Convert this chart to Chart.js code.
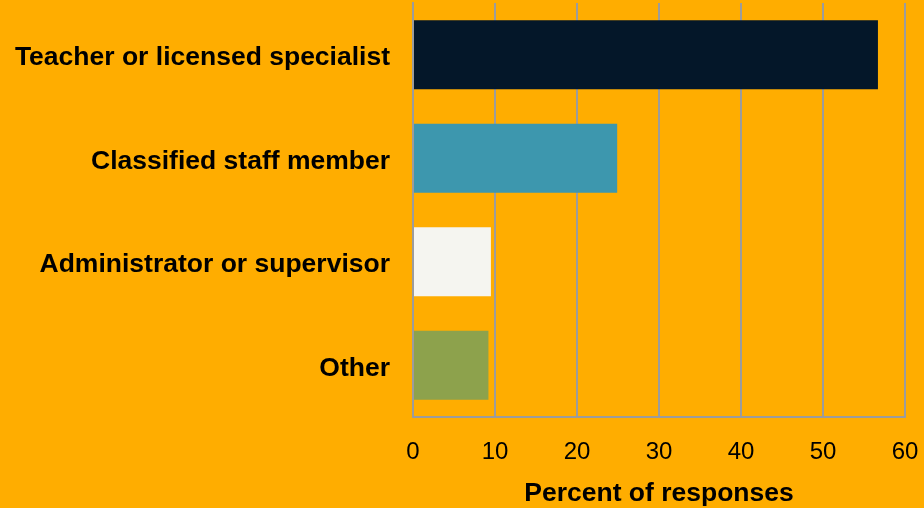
<!DOCTYPE html>
<html>
<head>
<meta charset="utf-8">
<script src="https://cdn.jsdelivr.net/npm/chart.js@4"></script>
<style>
  html, body { margin: 0; padding: 0; background: #FFAD00; }
  #wrap { width: 924px; height: 508px; }
</style>
</head>
<body>
<div id="wrap"><canvas id="c" width="924" height="508"></canvas></div>
<script>
// Respondent roles, share of all responses (%)
const categories = [
  'Teacher or licensed specialist',
  'Classified staff member',
  'Administrator or supervisor',
  'Other'
];
const percentValues = [56.7, 24.9, 9.5, 9.2];
const barColors = ['#041729', '#3D97AE', '#F5F5F0', '#8DA24C'];
const xTicks = [0, 10, 20, 30, 40, 50, 60];

const gridGray = '#9c9c9c';
const fontFamily = '"Liberation Sans", Arial, sans-serif';

const bgPlugin = {
  id: 'bg',
  beforeDraw(chart) {
    const ctx = chart.ctx;
    ctx.save();
    ctx.fillStyle = '#FFAD00';
    ctx.fillRect(0, 0, chart.width, chart.height);
    ctx.restore();
  }
};

new Chart(document.getElementById('c'), {
  type: 'bar',
  data: {
    labels: categories,
    datasets: [{
      data: percentValues,
      backgroundColor: barColors,
      borderWidth: 0,
      categoryPercentage: 1.0,
      barPercentage: 0.667
    }]
  },
  options: {
    indexAxis: 'y',
    responsive: false,
    animation: false,
    devicePixelRatio: 1,
    layout: { padding: { top: 3, right: 19, left: 0, bottom: 0 } },
    plugins: {
      legend: { display: false },
      tooltip: { enabled: false }
    },
    scales: {
      x: {
        min: 0,
        max: 60,
        afterBuildTicks(scale) {
          scale.ticks = xTicks.map(v => ({ value: v }));
        },
        afterFit(scale) {
          scale.height = 91;
          scale.paddingLeft = 0;
          scale.paddingRight = 0;
        },
        grid: {
          color: gridGray,
          lineWidth: 2,
          drawTicks: false
        },
        border: { display: true, color: gridGray, width: 2 },
        ticks: {
          color: '#000',
          padding: 21,
          maxRotation: 0,
          autoSkip: false,
          font: { family: fontFamily, size: 24 }
        },
        title: {
          display: true,
          text: 'Percent of responses',
          color: '#000',
          padding: { top: 4, bottom: 0 },
          font: { family: fontFamily, size: 26.5, weight: 'bold', lineHeight: 1.05 }
        }
      },
      y: {
        afterFit(scale) {
          scale.width = 413;
          scale.paddingTop = 0;
          scale.paddingBottom = 0;
        },
        grid: { display: false, drawTicks: false },
        border: { display: true, color: gridGray, width: 2 },
        ticks: {
          color: '#000',
          padding: 23,
          labelOffset: 3,
          font: { family: fontFamily, size: 26.5, weight: 'bold' }
        }
      }
    }
  },
  plugins: [bgPlugin]
});
</script>
</body>
</html>
